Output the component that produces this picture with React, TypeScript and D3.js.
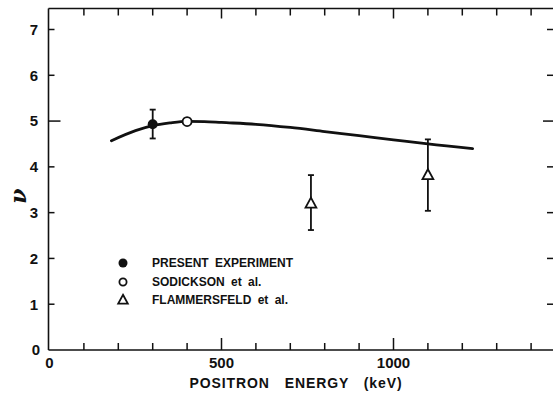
import React from "react";
import * as d3 from "d3";

const curveE = [180, 250, 300, 350, 400, 450, 500, 600, 700, 800, 900, 1000, 1100, 1230];
const curveNu = [4.57, 4.79, 4.9, 4.96, 4.995, 4.99, 4.97, 4.93, 4.86, 4.77, 4.68, 4.59, 4.5, 4.4];

const presentE = [300];
const presentNu = [4.93];
const presentLo = [4.62];
const presentHi = [5.25];

const sodE = [400];
const sodNu = [4.99];

const flamE = [760, 1100];
const flamNu = [3.2, 3.82];
const flamLo = [2.62, 3.04];
const flamHi = [3.82, 4.6];

const yTicks = [0, 1, 2, 3, 4, 5, 6, 7];
const xTicks = d3.range(100, 1500, 100);
const xLabels = [0, 500, 1000];
const legendLabels = ["PRESENT EXPERIMENT", "SODICKSON et al.", "FLAMMERSFELD et al."];

export default function App() {
  const x = d3.scaleLinear().domain([0, 1000]).range([49.5, 393.5]);
  const y = d3.scaleLinear().domain([0, 7]).range([350, 29.5]);
  const left = 48.5;
  const right = 553;
  const top = 8.5;
  const bottom = 350;
  const ink = "#111";
  const font = "'Liberation Sans', Arial, sans-serif";

  const line = d3
    .line<number>()
    .x((_, i) => x(curveE[i]))
    .y((d) => y(d))
    .curve(d3.curveMonotoneX);

  const tri = (cx: number, cy: number, s: number) =>
    `M${cx},${cy - s * 0.65} L${cx + s * 0.6},${cy + s * 0.45} L${cx - s * 0.6},${cy + s * 0.45} Z`;

  const errBar = (e: number, lo: number, hi: number, key: string) => (
    <g key={key} stroke={ink} strokeWidth={1.8}>
      <line x1={x(e)} x2={x(e)} y1={y(lo)} y2={y(hi)} />
      <line x1={x(e) - 3} x2={x(e) + 3} y1={y(lo)} y2={y(lo)} />
      <line x1={x(e) - 3} x2={x(e) + 3} y1={y(hi)} y2={y(hi)} />
    </g>
  );

  return (
    <svg
      width={553}
      height={393}
      style={{ position: "absolute", left: 0, top: 0, background: "#fff" }}
    >
      {/* frame */}
      <g stroke={ink} strokeWidth={1.6} fill="none">
        <line x1={left} x2={right} y1={top} y2={top} />
        <line x1={left} x2={right} y1={bottom} y2={bottom} />
        <line x1={left} x2={left} y1={top} y2={bottom} />
      </g>
      {/* ticks */}
      <g stroke={ink} strokeWidth={1.5}>
        {xTicks.map((t) => {
          const major = t % 500 === 0;
          return (
            <g key={"xt" + t}>
              <line x1={x(t)} x2={x(t)} y1={bottom} y2={bottom - (major ? 12 : 7)} />
              <line x1={x(t)} x2={x(t)} y1={top} y2={top + (major ? 10 : 7)} />
            </g>
          );
        })}
        {yTicks.slice(1).map((t) => (
          <g key={"yt" + t}>
            <line x1={left} x2={left + (t === 5 ? 12 : 6)} y1={y(t)} y2={y(t)} />
            <line x1={right} x2={right - (t === 5 ? 10 : 6)} y1={y(t)} y2={y(t)} />
          </g>
        ))}
      </g>
      {/* tick labels */}
      <g fontFamily={font} fontWeight="bold" fontSize={15} fill={ink}>
        {yTicks.map((t) => (
          <text key={"yl" + t} x={t === 0 ? 40 : 38} y={y(t)} dy="0.36em" textAnchor="end">
            {t}
          </text>
        ))}
        {xLabels.map((t) => (
          <text key={"xl" + t} x={x(t)} y={368} textAnchor="middle">
            {t}
          </text>
        ))}
      </g>
      {/* axis titles */}
      <text
        x={296}
        y={388}
        textAnchor="middle"
        fontFamily={font}
        fontWeight="bold"
        fontSize={14}
        fill={ink}
        letterSpacing={0.9}
        wordSpacing={10}
      >
        POSITRON ENERGY (keV)
      </text>
      <text
        x={0}
        y={0}
        transform="translate(19,196) rotate(-90)"
        textAnchor="middle"
        fontFamily="'DejaVu Serif', serif"
        fontStyle="italic"
        fontWeight="bold"
        fontSize={22}
        fill={ink}
        dy="0.3em"
      >
        ν
      </text>
      {/* curve */}
      <path d={line(curveNu) || ""} fill="none" stroke={ink} strokeWidth={2.8} strokeLinecap="round" />
      {/* error bars */}
      {presentE.map((e, i) => errBar(e, presentLo[i], presentHi[i], "pe" + i))}
      {flamE.map((e, i) => errBar(e, flamLo[i], flamHi[i], "fe" + i))}
      {/* markers */}
      {presentE.map((e, i) => (
        <circle key={"p" + i} cx={x(e)} cy={y(presentNu[i])} r={5} fill={ink} />
      ))}
      {sodE.map((e, i) => (
        <circle key={"s" + i} cx={x(e)} cy={y(sodNu[i])} r={4.5} fill="#fff" stroke={ink} strokeWidth={1.8} />
      ))}
      {flamE.map((e, i) => (
        <path key={"f" + i} d={tri(x(e), y(flamNu[i]), 9)} fill="#fff" stroke={ink} strokeWidth={1.8} />
      ))}
      {/* legend */}
      <g fontFamily={font} fontWeight="bold" fontSize={12} fill={ink}>
        <circle cx={123} cy={263} r={4.5} fill={ink} />
        <circle cx={123} cy={282} r={3.6} fill="#fff" stroke={ink} strokeWidth={1.8} />
        <path d={tri(123, 300, 8)} fill="#fff" stroke={ink} strokeWidth={1.8} />
        {legendLabels.map((l, i) => (
          <text key={l} x={152} y={263 + i * 18.5} dy="0.36em" wordSpacing={3}>
            {l}
          </text>
        ))}
      </g>
    </svg>
  );
}
